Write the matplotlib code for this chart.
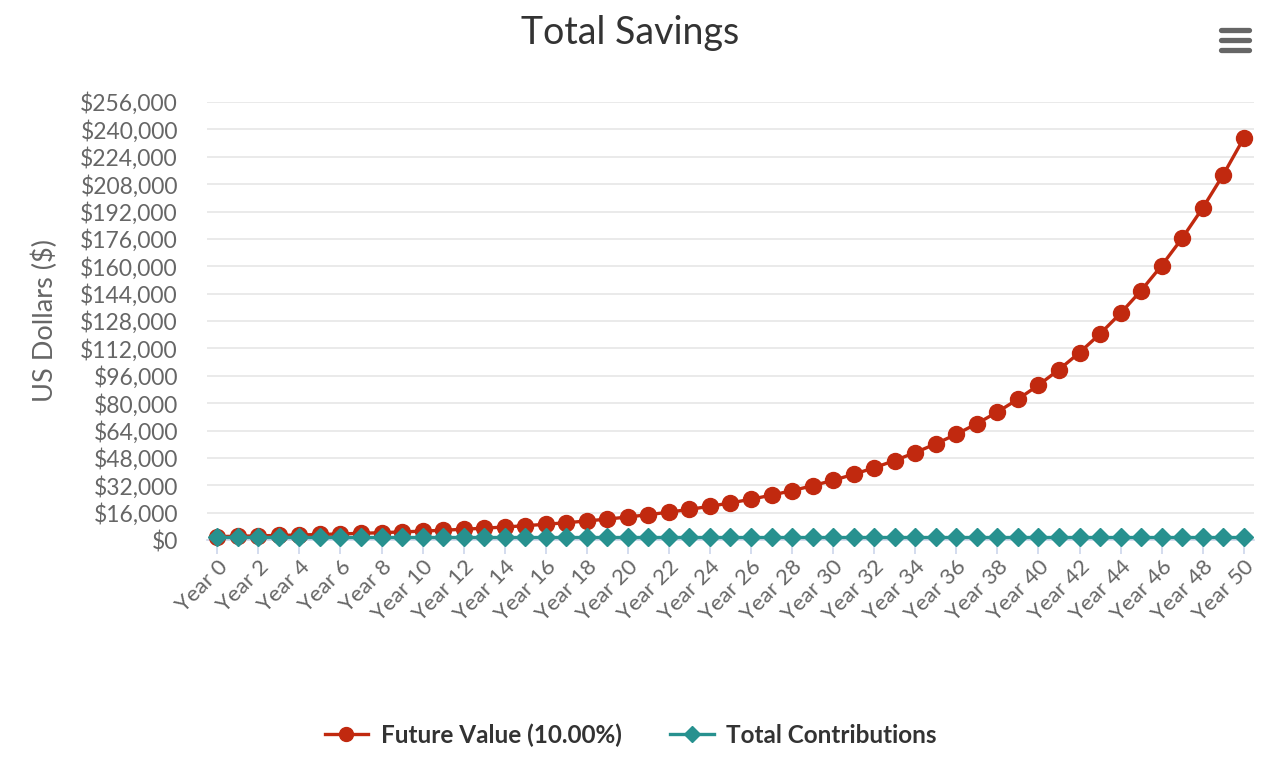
"""Total Savings chart: future value at 10% vs. total contributions, years 0-50."""
import matplotlib
matplotlib.use("Agg")
import matplotlib.pyplot as plt
from matplotlib.lines import Line2D
from matplotlib.ticker import FuncFormatter, MultipleLocator

plt.rcParams["font.family"] = ["Lato", "DejaVu Sans"]

YEARS = [f"Year {i}" for i in range(51)]
FUTURE_VALUE = [2000, 2200, 2420, 2662, 2928, 3221, 3543, 3897, 4287, 4716,
                5187, 5706, 6277, 6905, 7595, 8354, 9190, 10109, 11120, 12232,
                13455, 14800, 16281, 17909, 19699, 21669, 23836, 26220, 28842, 31726,
                34899, 38389, 42228, 46450, 51095, 56205, 61825, 68008, 74809, 82290,
                90519, 99571, 109528, 120481, 132529, 145782, 160360, 176396, 194035, 213439,
                234783]
CONTRIBUTIONS = [2000] * 51

RED = "#c1290f"
TEAL = "#27918f"
W, H = 1261, 763

fig = plt.figure(figsize=(W / 100, H / 100), dpi=100)
ax = fig.add_axes([207 / W, (H - 540) / H, (1254 - 207) / W, (540 - 102) / H])

x = list(range(len(YEARS)))
ax.plot(x, FUTURE_VALUE, color=RED, lw=2.4, marker="o", ms=11.5, zorder=3,
        clip_on=False, label="Future Value (10.00%)")
ax.plot(x, CONTRIBUTIONS, color=TEAL, lw=2.4, marker="D", ms=9, zorder=4,
        clip_on=False, label="Total Contributions")

ax.set_xlim(-0.5, len(YEARS) - 0.5)
ax.set_ylim(0, 256000)
ax.yaxis.set_major_locator(MultipleLocator(16000))
ax.yaxis.set_major_formatter(FuncFormatter(lambda v, p: f"${v:,.0f}"))
ax.set_xticks(x[::2])
ax.set_xticklabels(YEARS[::2], rotation=45, ha="right", rotation_mode="anchor")

ax.grid(axis="y", color="#e6e6e6", lw=1.2)
ax.set_axisbelow(True)
for s in ("top", "right", "left"):
    ax.spines[s].set_visible(False)
ax.spines["bottom"].set_color("#ccd6eb")
ax.spines["bottom"].set_linewidth(1.2)
ax.tick_params(axis="x", colors="#666666", labelsize=16, length=10, width=1.2,
               color="#ccd6eb", pad=2)
ax.tick_params(axis="y", colors="#666666", labelsize=16.5, length=0, pad=21)
ax.set_ylabel("US Dollars ($)", fontsize=19.5, color="#666666", labelpad=16)

fig.text(0.5, 1 - 33 / H, "Total Savings", ha="center", va="center",
         fontsize=27, color="#333333")

handles = [Line2D([], [], color=RED, lw=2.4, marker="o", ms=10),
           Line2D([], [], color=TEAL, lw=2.4, marker="D", ms=8)]
fig.legend(handles, ["Future Value (10.00%)", "Total Contributions"],
           loc="center", bbox_to_anchor=(0.5, 1 - 735 / H), ncol=2, frameon=False,
           handlelength=1.8, handletextpad=0.5, columnspacing=2.0,
           prop={"size": 17.5, "weight": "bold"}, labelcolor="#333333")

# hamburger export menu icon
for yy in (30, 40, 50):
    fig.add_artist(Line2D([1221 / W, 1249 / W], [1 - yy / H] * 2, color="#666666",
                          lw=3.8, solid_capstyle="round"))

fig.savefig("out.png", dpi=100)
